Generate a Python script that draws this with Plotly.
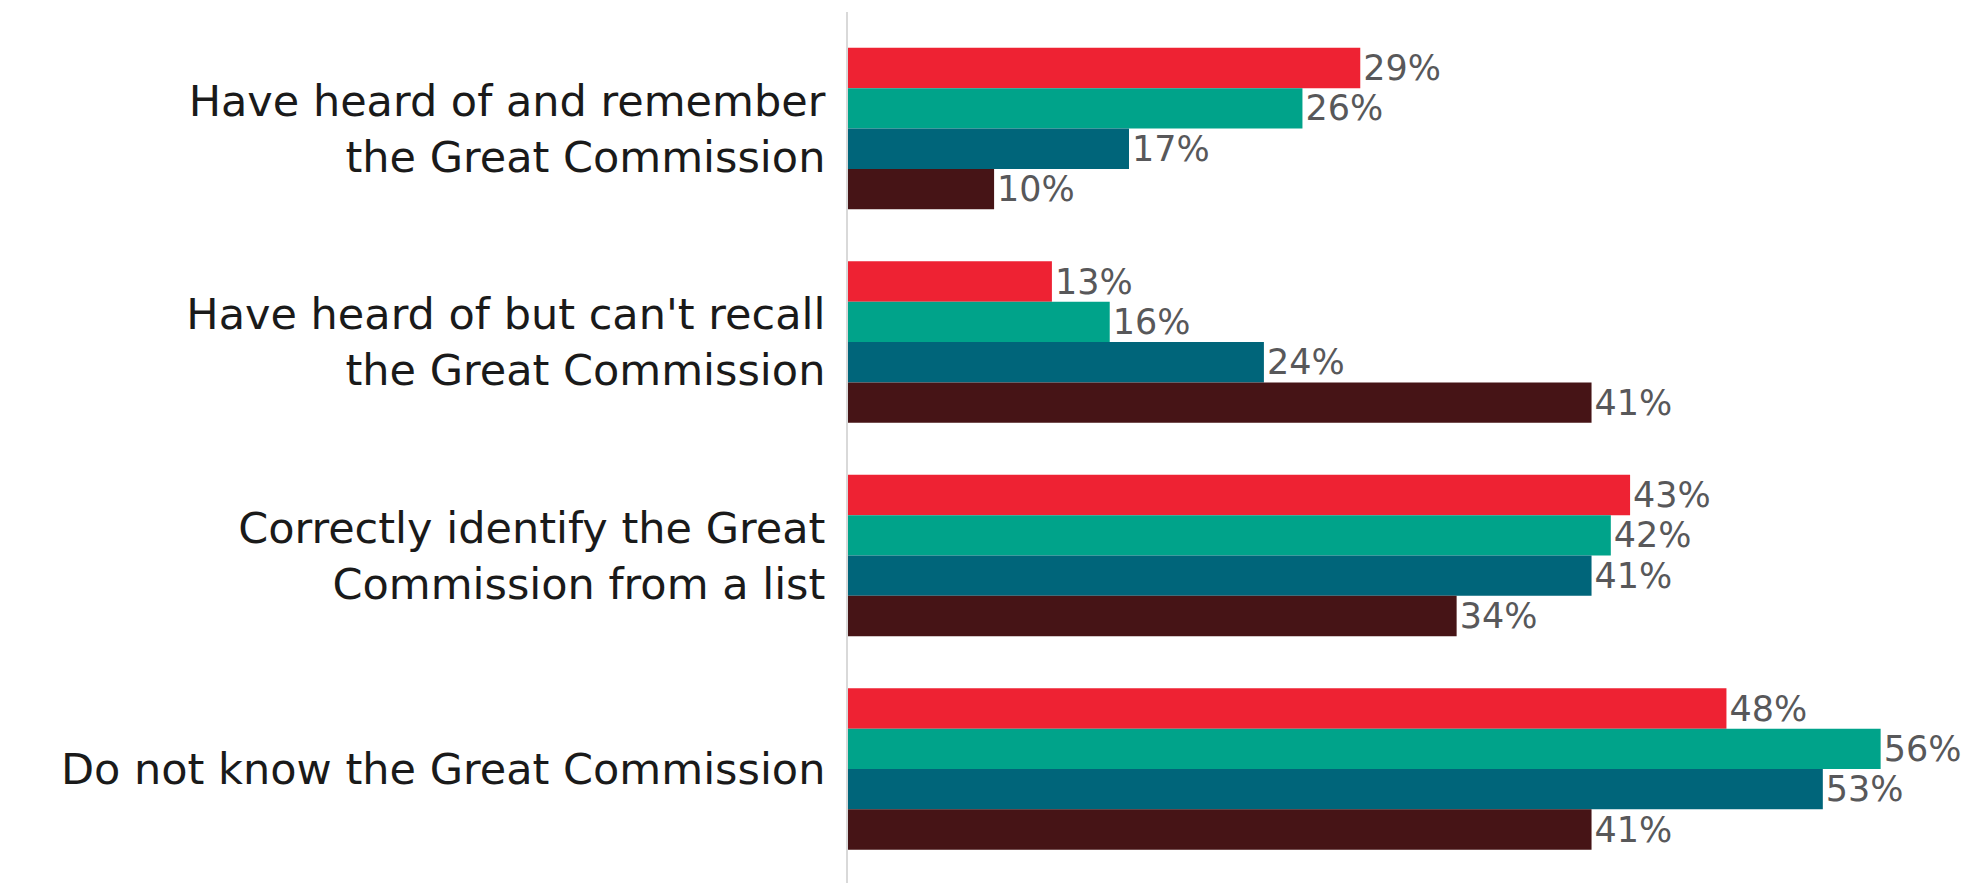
import plotly.graph_objects as go

categories = [
    "Have heard of and remember<br>the Great Commission",
    "Have heard of but can't recall<br>the Great Commission",
    "Correctly identify the Great<br>Commission from a list",
    "Do not know the Great Commission",
]
series_names = ["Series 1", "Series 2", "Series 3", "Series 4"]
series_values = [
    [29, 13, 43, 48],
    [26, 16, 42, 56],
    [17, 24, 41, 53],
    [10, 41, 34, 41],
]
colors = ["#EE2233", "#00A38A", "#00657A", "#461416"]

fig = go.Figure()
for name, vals, col in zip(series_names, series_values, colors):
    fig.add_trace(go.Bar(
        y=categories, x=vals, name=name, orientation="h",
        marker=dict(color=col, line=dict(width=0)),
        text=[f"{v}%" for v in vals], textposition="outside",
        textfont=dict(family="DejaVu Sans", size=39, color="#58585A"),
        cliponaxis=False,
    ))

fig.update_layout(
    width=1969, height=875,
    barmode="group", bargap=0.244, bargroupgap=0,
    showlegend=False,
    plot_bgcolor="white", paper_bgcolor="white",
    margin=dict(l=840, r=0, t=4, b=0),
    font=dict(family="DejaVu Sans", color="#1a1a1a"),
    xaxis=dict(range=[2.42, 61.0], visible=False, showgrid=False, zeroline=False),
    yaxis=dict(range=[3.534, -0.546], showline=True, linecolor="#D9D9D9", linewidth=2,
               showgrid=False, zeroline=False, ticks="", ticklabelstandoff=12,
               tickfont=dict(family="DejaVu Sans", size=43, color="#1a1a1a")),
)
fig.write_html("out.html")
